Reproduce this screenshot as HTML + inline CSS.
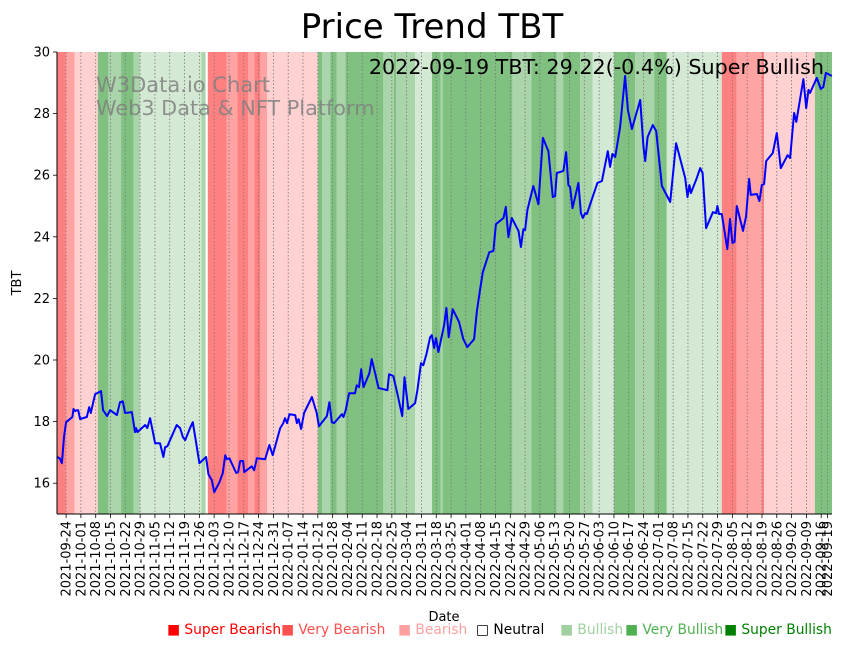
<!DOCTYPE html>
<html><head><meta charset="utf-8"><style>
html,body{margin:0;padding:0;background:#fff;}
body{width:851px;height:646px;overflow:hidden;font-family:"Liberation Sans","DejaVu Sans",sans-serif;}
</style></head><body>
<svg id="chart" width="851" height="646" xmlns="http://www.w3.org/2000/svg" font-family="DejaVu Sans, Liberation Sans, sans-serif">
<g id="bands"></g>
<g id="grid"></g>
<text x="96" y="92" font-size="21" fill="#808080" fill-opacity="0.85">W3Data.io Chart</text>
<text x="96" y="115" font-size="20.8" fill="#808080" fill-opacity="0.85">Web3 Data &amp; NFT Platform</text>
<path id="line" fill="none" stroke="#0000ff" stroke-width="2" stroke-linejoin="round"/>
<g id="axes"></g>
<text x="432" y="38" font-size="34" text-anchor="middle" fill="#000">Price Trend TBT</text>
<text x="824" y="74" font-size="20.7" text-anchor="end" fill="#000">2022-09-19 TBT: 29.22(-0.4%) Super Bullish</text>
<text x="21" y="283" font-size="13" text-anchor="middle" transform="rotate(-90 21 283)">TBT</text>
<text x="444" y="621" font-size="13" text-anchor="middle">Date</text>
<g id="legend"></g>
</svg>
<script>
// Data (days offset from 2021-09-24)
const days = [-4.3,-3,-2,-1,0,3,3.5,4.3,5,5.7,6.6,9.8,10.9,11.7,13.7,16.5,17.5,19.4,20.8,24,25.5,26.8,27.9,31.1,32.6,33.1,33.7,37.4,38.4,39.7,42.1,44.4,46,46.8,47.9,52.3,53.9,55.2,56.3,58.6,59.9,61.5,63,66.2,67.3,68.9,70,72.5,74.1,75.2,76,77.2,80.4,81.3,82.3,83.7,84.2,87.8,88.9,90.2,94.1,96.1,97.7,101.2,102.7,103.5,104.5,105.6,108.3,109.1,109.9,111.1,112.5,116.2,118.5,119.5,123.3,124.5,125.6,126.7,130.4,131.1,132.2,133.8,136.6,137.4,138.5,139.5,140.6,143.4,144.5,146.1,147.7,151.9,152.7,154.7,156.6,158.9,160,161.8,165,166.1,167.8,168.9,170.5,172.1,172.9,174,174.9,176,178.7,179.8,180.9,182.8,185.8,187.8,189.7,192.9,194.2,195.7,197,200.1,202,203.2,206.8,207.9,209.1,210.7,213.9,215,216.2,217,218.1,220.9,223.3,225.4,228,230.1,231.2,232,235.1,236.4,237.5,238.3,239.4,242.2,243.4,244.3,245.4,246.2,251.2,253.3,256.1,257.2,258.3,259.6,261.9,264.3,265.6,267.5,271.4,273,273.8,274.9,277.4,279,281.7,285.6,288.4,292.7,293.8,294.7,295.4,298.2,299.8,300.9,302.6,305.8,307.3,307.9,308.7,310,312.6,313.9,315,316,317.1,320,321.5,322.9,323.7,326.6,327.8,328.9,330,331,334.1,336,337.9,341.1,342.3,344.2,345.2,348.6,349.9,351,351.7,354.9,356.8,358,359.2,362];
const prices = [16.85,16.81,16.65,17.5,17.98,18.15,18.41,18.34,18.37,18.37,18.08,18.15,18.47,18.28,18.89,18.99,18.37,18.18,18.37,18.21,18.63,18.66,18.28,18.31,17.66,17.79,17.66,17.89,17.79,18.11,17.3,17.3,16.85,17.17,17.2,17.89,17.79,17.5,17.4,17.79,17.98,17.3,16.65,16.85,16.29,16.1,15.71,16.03,16.33,16.91,16.78,16.81,16.33,16.36,16.72,16.72,16.36,16.55,16.42,16.81,16.78,17.24,16.91,17.79,17.95,18.11,17.95,18.24,18.21,17.95,18.08,17.76,18.28,18.8,18.28,17.85,18.18,18.63,17.98,17.95,18.24,18.15,18.37,18.92,18.92,19.18,19.12,19.7,19.12,19.57,20.03,19.57,19.09,19.02,19.54,19.48,18.92,18.18,19.44,18.41,18.6,19.02,19.9,19.83,20.22,20.74,20.81,20.39,20.71,20.26,21.13,21.69,20.74,21.65,21.23,20.68,20.42,20.68,21.59,22.27,22.85,23.5,23.54,24.41,24.61,24.97,23.99,24.61,24.19,23.67,24.25,24.22,24.87,25.65,25.06,27.21,26.78,25.29,25.32,26.07,26.14,26.75,25.68,25.62,24.93,25.75,24.77,24.61,24.77,24.74,25.75,25.81,26.78,26.27,26.69,26.59,27.56,29.22,28.12,27.5,28.44,26.91,26.46,27.24,27.63,27.43,25.65,25.13,27.04,25.91,25.29,25.68,25.42,25.91,26.23,26.07,24.28,24.8,24.77,25.0,24.74,24.74,23.6,24.58,23.8,23.83,25.0,24.19,24.67,25.88,25.36,25.39,25.16,25.68,25.71,26.46,26.72,27.37,26.23,26.65,26.56,28.02,27.73,29.12,28.18,28.77,28.67,29.16,28.8,28.86,29.32,29.22];
const bandStarts = [-5,0,4,15,20,26,32,35,64,66,67,76,81,86,89,92,95,119,121,125,128,132,150,155,156,165,173,177,178,211,220,232,235,243,249,259,269,278,284,310,317,329,330,354];
const bandLevels = [-3,-2,-1,3,2,3,2,1,2,0,-3,-2,-3,-2,-3,-2,-1,3,2,3,2,3,2,3,2,1,3,2,3,2,3,2,3,2,1,3,2,3,1,-3,-2,-3,-1,3];
const bandEnd = 363;
const yTicks = [16,18,20,22,24,26,28,30];
const legendLabels = ["Super Bearish","Very Bearish","Bearish","Neutral","Bullish","Very Bullish","Super Bullish"];
const legendColors = ["#ff0000","#ff5050","#ffa0a0","#000000","#a0d0a0","#50b050","#008000"];

const NS="http://www.w3.org/2000/svg";
const X0=57,X1=832,Y0=514,Y1=52;
const dMin=-4.3,dMax=362.1,vMin=15,vMax=30;
const xs=d=>X0+(d-dMin)/(dMax-dMin)*(X1-X0);
const ys=v=>Y0-(v-vMin)/(vMax-vMin)*(Y0-Y1);
const bandColor={"-3":"#ff8080","-2":"#ffa3a3","-1":"#ffd1d1","0":"#ffffff","1":"#d4e9d4","2":"#aad4aa","3":"#80c080"};
function mk(tag,attrs,parent){const e=document.createElementNS(NS,tag);for(const k in attrs)e.setAttribute(k,attrs[k]);parent.appendChild(e);return e;}

const bg=document.getElementById('bands');
bandStarts.forEach((s,i)=>{
  const e=i+1<bandStarts.length?bandStarts[i+1]:bandEnd;
  const a=Math.max(xs(s),X0),b=Math.min(xs(e),X1);
  const r=mk('rect',{x:a,y:Y1,width:Math.max(0,b-a),height:Y0-Y1,fill:bandColor[bandLevels[i]]},bg);
  
  
});

const start=new Date(Date.UTC(2021,8,24));
const tickDays=[];for(let d=0;d<=357;d+=7)tickDays.push(d);tickDays.push(360);
const fmt=d=>{const t=new Date(start.getTime()+d*86400000);return t.toISOString().slice(0,10);};
const gg=document.getElementById('grid');
const ax=document.getElementById('axes');
tickDays.forEach(d=>{
  const x=xs(d);
  const l=mk('line',{x1:x,x2:x,y1:Y1,y2:Y0,stroke:'#777',"stroke-width":0.8,"stroke-dasharray":"1.5,2"},gg);
  
  
  mk('line',{x1:x,x2:x,y1:Y0,y2:Y0+4,stroke:'#000',"stroke-width":0.8},ax);
  const t=mk('text',{x:x+4.5,y:Y0+7,"font-size":13,"text-anchor":"end",transform:`rotate(-90 ${x+4.5} ${Y0+7})`},ax);
  t.textContent=fmt(d);
  
  
});
yTicks.forEach(v=>{
  const y=ys(v);
  mk('line',{x1:X0-4,x2:X0,y1:y,y2:y,stroke:'#000',"stroke-width":0.8},ax);
  const t=mk('text',{x:X0-7,y:y+4.5,"font-size":13,"text-anchor":"end"},ax);
  t.textContent=v;
  
  
});
mk('line',{x1:X0,x2:X0,y1:Y1,y2:Y0,stroke:'#000',"stroke-width":1},ax);
mk('line',{x1:X0,x2:X1,y1:Y0,y2:Y0,stroke:'#000',"stroke-width":1},ax);

document.getElementById('line').setAttribute('d',days.map((d,i)=>(i?'L':'M')+xs(d).toFixed(1)+' '+ys(prices[i]).toFixed(1)).join(' '));

const lg=document.getElementById('legend');
const lx=[167,281,398,476,560,625,724];
legendLabels.forEach((lab,i)=>{
  const t=mk('text',{x:lx[i],y:634,"font-size":13.8,fill:legendColors[i]},lg);
  t.textContent=(i===3?'□ ':'■ ')+lab;
  
  
});
</script>
</body></html>
